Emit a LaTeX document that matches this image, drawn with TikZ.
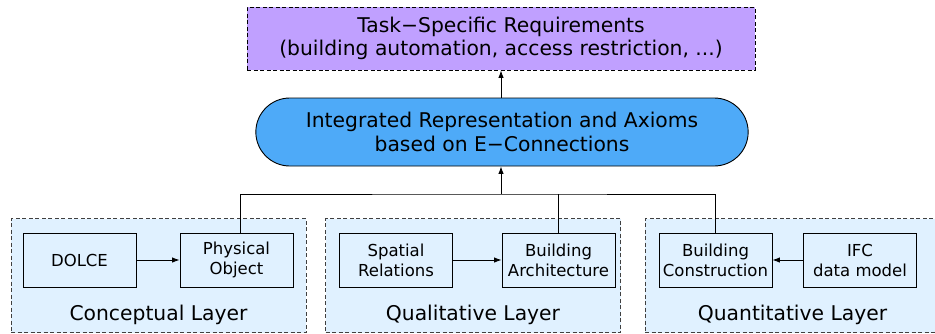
\documentclass[tikz,border=0pt]{standalone}
\usepackage{fontspec}
\setmainfont{DejaVu Sans}
\usetikzlibrary{arrows.meta,shapes.misc}
\definecolor{taskviolet}{RGB}{192,160,255}
\definecolor{axiomblue}{RGB}{78,170,248}
\definecolor{layerblue}{RGB}{224,241,255}
\tikzset{
	taskbox/.style={draw, line width=0.9pt, dash pattern=on 4pt off 2.5pt,
			fill=taskviolet, minimum width=508pt, minimum height=63pt,
			align=center, font=\fontsize{20.3}{23}\selectfont},
	axiombox/.style={rounded rectangle, draw, line width=0.9pt, fill=axiomblue,
			minimum width=499pt, minimum height=68pt,
			align=center, font=\fontsize{20.3}{24}\selectfont},
	layerbox/.style={draw=black!75, line width=0.9pt, dash pattern=on 4pt off 2.5pt,
			fill=layerblue, minimum width=295pt, minimum height=114pt},
	layerlabel/.style={font=\fontsize{20.3}{24}\selectfont},
	partbox/.style={draw, line width=0.9pt, minimum width=113pt, minimum height=54pt,
			align=center, font=\fontsize{16.5}{20}\selectfont},
	link/.style={line width=0.9pt, -{Latex[length=7.5pt,width=5.5pt]}}
}

\begin{document}
\begin{tikzpicture}[x=1pt,y=-1pt]
	\useasboundingbox (0,0) rectangle (935,333);
	\clip (0,0) rectangle (935,333);
	% layers
	\node[layerbox] (conceptual) at (158.5,275.5) {};
	\node[layerbox] (qualitative) at (473,275.5) {};
	\node[layerbox] (quantitative) at (792.5,275.5) {};
	\node[layerlabel] (conceptuallbl) at (158.5,315) {Conceptual Layer};
	\node[layerlabel] (qualitativelbl) at (473,315) {Qualitative Layer};
	\node[layerlabel] (quantitativelbl) at (792.5,315) {Quantitative Layer};
	% parts
	\node[partbox] (dolce) at (79.5,260) {DOLCE};
	\node[partbox] (physobj) at (236.5,260) {Physical\\Object};
	\node[partbox] (spatial) at (396,260) {Spatial\\Relations};
	\node[partbox] (archi) at (558.5,260) {Building\\Architecture};
	\node[partbox] (constr) at (715.5,260) {Building\\Construction};
	\node[partbox] (ifc) at (860,260) {IFC\\data model};
	% upper boxes
	\node[axiombox] (axioms) at (502,132) {Integrated Representation and Axioms\\based on E−Connections};
	\node[taskbox] (task) at (501,38.5) {Task−Specific Requirements\\(building automation, access restriction, ...)};
	\coordinate (join) at (501,194);
	% connectors
	\draw[link] (dolce) -- (physobj);
	\draw[link] (spatial) -- (archi);
	\draw[link] (ifc) -- (constr);
	\draw[line width=0.9pt] ([xshift=4pt]physobj.north) |- (join) -| (constr.north);
	\draw[line width=0.9pt] (archi.north) -- (archi.north |- join);
	\draw[link] (join) -- (axioms.south -| join);
	\draw[link] (axioms.north -| task.south) -- (task.south);
\end{tikzpicture}
\end{document}
